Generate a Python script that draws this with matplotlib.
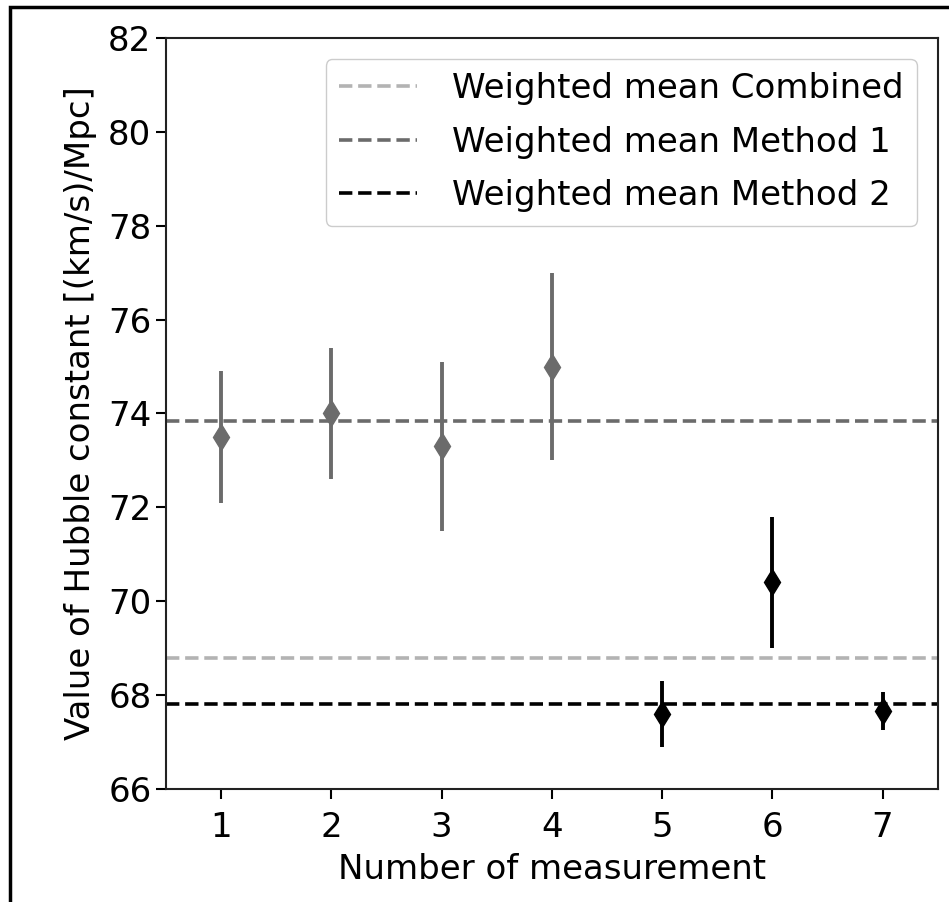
import matplotlib
matplotlib.use("Agg")
import matplotlib.pyplot as plt
from matplotlib.patches import Rectangle

# Data
m1_x = [1, 2, 3, 4]
m1_y = [73.5, 74.0, 73.3, 75.0]
m1_err = [1.4, 1.4, 1.8, 2.0]

m2_x = [5, 6, 7]
m2_y = [67.6, 70.4, 67.66]
m2_err = [0.7, 1.4, 0.4]

mean_combined = 68.78
mean_m1 = 73.85
mean_m2 = 67.8

xticks = [1, 2, 3, 4, 5, 6, 7]
yticks = [66, 68, 70, 72, 74, 76, 78, 80, 82]

plt.rcParams['font.family'] = ['DejaVu Sans']
fig = plt.figure(figsize=(9.49, 9.02), dpi=100)
ax = fig.add_axes([0.175, 0.1253, 0.813, 0.8326])

c1 = '#6b6b6b'
cc = '#b3b3b3'
fs = 24.5

ax.axhline(mean_combined, color=cc, ls='--', lw=2.6, label='Weighted mean Combined')
ax.axhline(mean_m1, color=c1, ls='--', lw=2.6, label='Weighted mean Method 1')
ax.axhline(mean_m2, color='black', ls='--', lw=2.6, label='Weighted mean Method 2')

ax.errorbar(m1_x, m1_y, yerr=m1_err, fmt='d', color=c1, ms=13, elinewidth=2.8, capsize=0)
ax.errorbar(m2_x, m2_y, yerr=m2_err, fmt='d', color='black', ms=13, elinewidth=2.8, capsize=0)

ax.set_xlim(0.5, 7.5)
ax.set_ylim(66, 82)
ax.set_xticks(xticks)
ax.set_yticks(yticks)
ax.tick_params(labelsize=fs, length=7, width=1.5)
ax.tick_params(axis='x', pad=9)
for s in ax.spines.values():
    s.set_linewidth(1.5)
    s.set_color('#222222')

ax.set_xlabel('Number of measurement', fontsize=fs, labelpad=6)
ax.set_ylabel('Value of Hubble constant [(km/s)/Mpc]', fontsize=fs, labelpad=8)

leg = ax.legend(loc='upper right', fontsize=fs, handlelength=2.3, borderpad=0.4,
                labelspacing=0.6, handletextpad=1.0, framealpha=1,
                bbox_to_anchor=(0.995, 0.995))

# outer frame of the screenshot
fig.patches.append(Rectangle((0.0105, -0.05), 1.2, 1.042, transform=fig.transFigure,
                             fill=False, edgecolor='black', lw=2.5))

fig.savefig('out.png', dpi=100)
